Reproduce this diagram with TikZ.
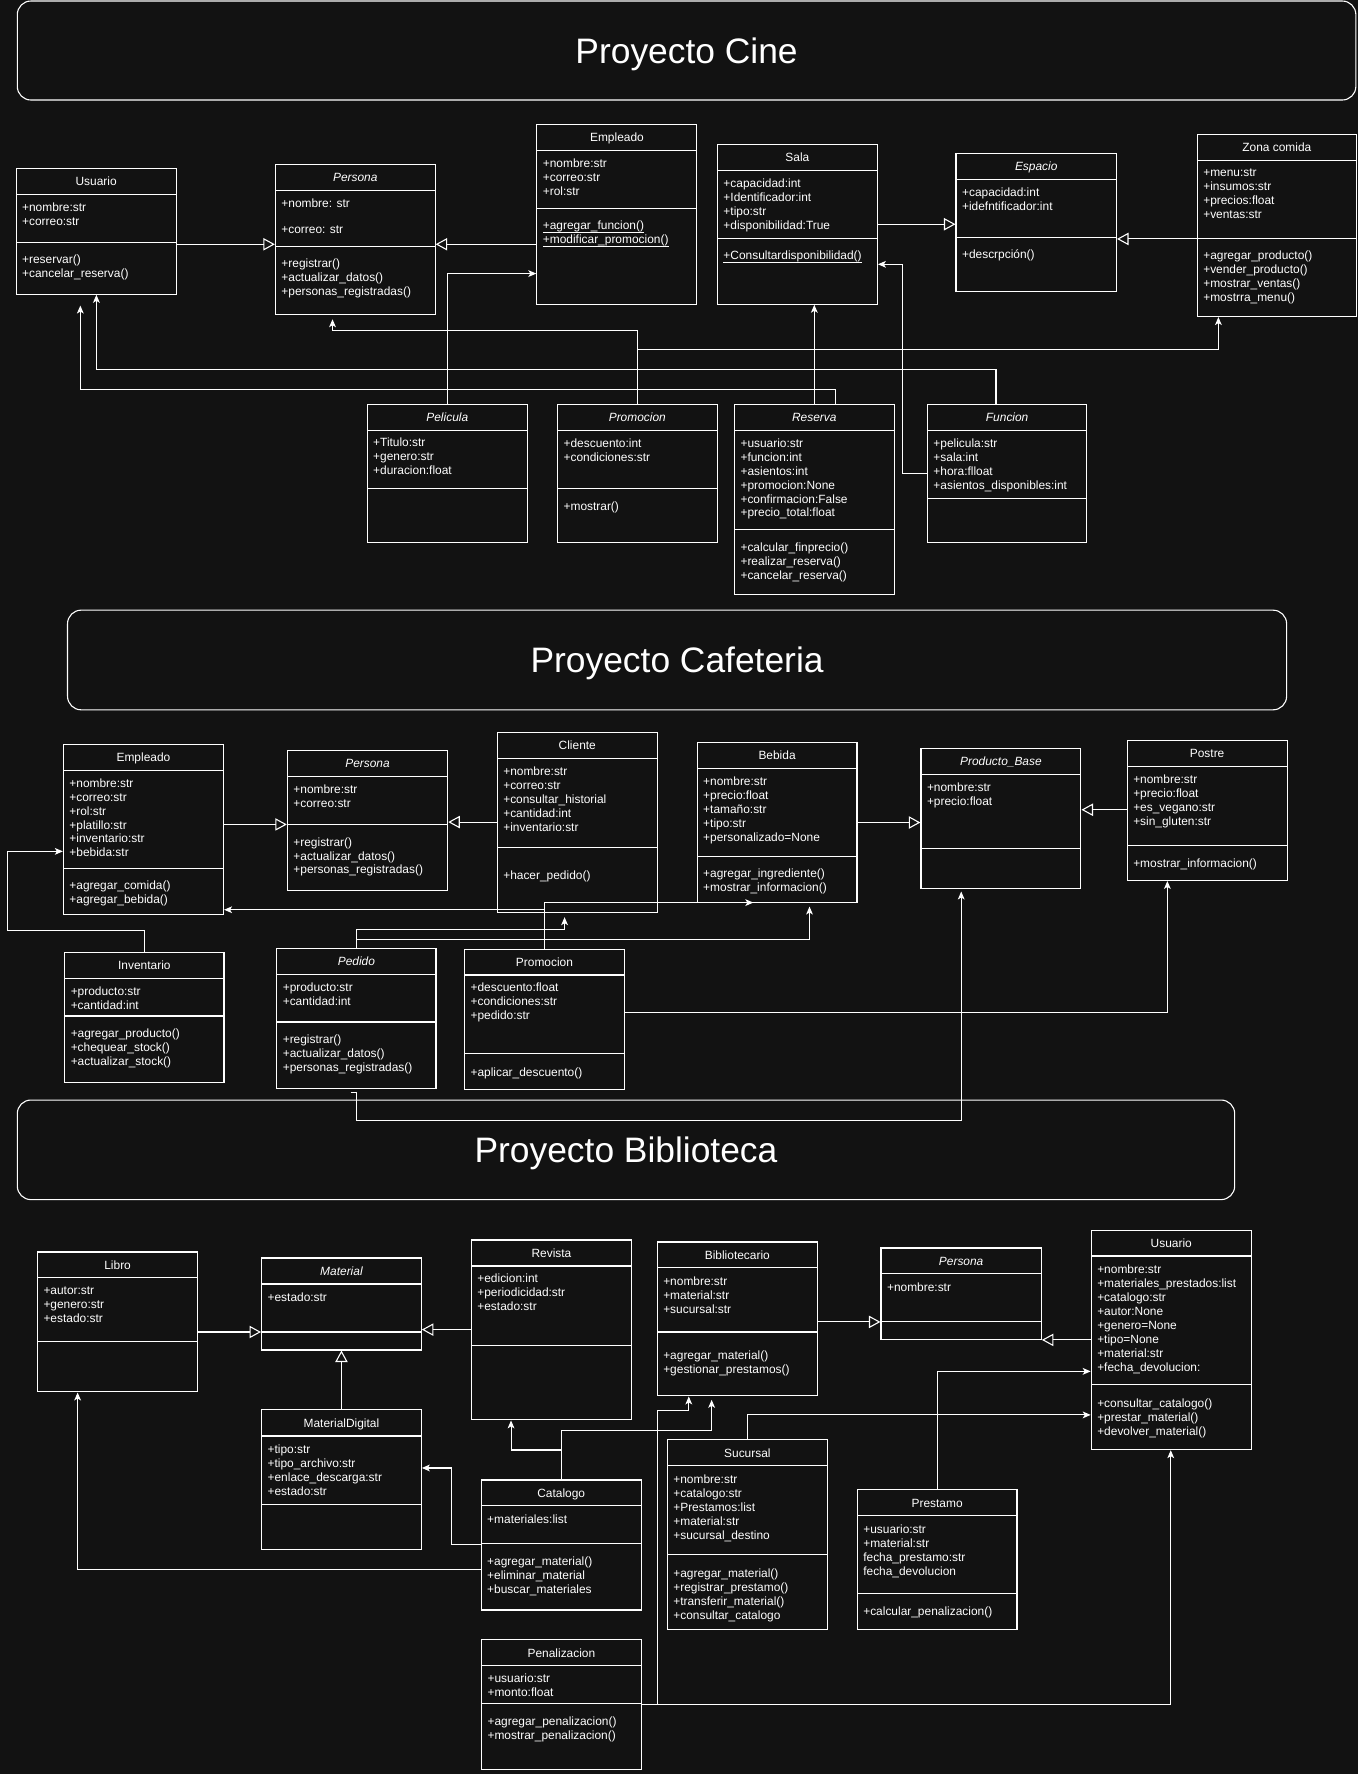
\documentclass[tikz,border=0pt]{standalone}
\usepackage{fontspec}
\setmainfont{Liberation Sans}
\usetikzlibrary{arrows.meta,fit}
\definecolor{fondo}{HTML}{121212}
\newcommand{\subraya}[1]{\underline{\vphantom{A}\smash{#1}}}
\tikzstyle{clase}=[draw=white, fill=fondo, inner sep=0pt, line width=0.55pt]
\tikzstyle{proyecto}=[draw=white, fill=fondo, inner sep=0pt, line width=0.55pt, rounded corners=0.24cm]
\tikzstyle{titulo}=[text=white, font=\fontsize{17.8}{20}\selectfont, text height=12.74pt, text depth=0pt, inner sep=0pt]
\tikzstyle{nombre}=[text=white, font=\fontsize{6}{7.03}\selectfont, text height=4.3pt, text depth=0pt, inner sep=0pt]
\tikzstyle{nombrecursiva}=[nombre, font=\fontsize{6}{7.03}\selectfont\itshape]
\tikzstyle{miembros}=[text=white, font=\fontsize{6}{7.03}\selectfont, anchor=north west, align=left, inner sep=0pt]
\tikzstyle{linea}=[white, line width=0.55pt]
\tikzstyle{hereda}=[linea, -{Triangle[open, length=5.8pt, width=6.2pt]}]
\tikzstyle{asocia}=[linea, -{Stealth[length=4pt, width=3.4pt, inset=1pt]}]

\begin{document}
\begin{tikzpicture}[x=0.02cm, y=-0.02cm]
		   \fill[fondo] (0,0) rectangle (1200,1568);
		   \useasboundingbox (0,0) rectangle (1200,1568);
		   \begin{scope}
			   % proyectos
			   \node[proyecto, fit={(15.3,0.9) (1198.4,88.4)}] (cine) {};
			   \node[titulo] (cine-t) at (cine.center) {Proyecto Cine};
			   \node[proyecto, fit={(59.7,539.3) (1137.2,627.4)}] (cafe) {};
			   \node[titulo] (cafe-t) at (cafe.center) {Proyecto Cafeteria};
			   \node[proyecto, fit={(15.3,972.3) (1091.3,1060.3)}] (biblio) {};
			   \node[titulo] (biblio-t) at (biblio.center) {Proyecto Biblioteca};

			   % cine
			   \node[clase, fit={(14.2,148.7) (155.8,260.1)}] (usuario) {};
			   \draw[linea] (14.2,171.7) -- (155.8,171.7) (14.2,214.1) -- (155.8,214.1);
			   \node[nombre] (usuario-n) at (85,160.2) {Usuario};
			   \node[miembros] (usuario-a) at (19.2,179) {+nombre:str\\+correo:str};
			   \node[miembros] (usuario-m) at (19.2,225.2) {+reservar()\\+cancelar\_reserva()};

			   \node[clase, fit={(243.4,145.2) (384.6,277.7)}] (persona) {};
			   \draw[linea] (243.4,168.2) -- (384.6,168.2) (243.4,217.7) -- (384.6,217.7);
			   \node[nombrecursiva] (persona-n) at (314,156.7) {Persona};
			   \node[miembros] (persona-a) at (248.4,175.5) {+nombre: str\\[6pt]+correo: str};
			   \node[miembros] (persona-m) at (248.4,228.8) {+registrar()\\+actualizar\_datos()\\+personas\_registradas()};

			   \node[clase, fit={(474.5,109.9) (616,268.9)}] (empleado) {};
			   \draw[linea] (474.5,132.8) -- (616,132.8) (474.5,184.1) -- (616,184.1);
			   \node[nombre] (empleado-n) at (545.3,121.4) {Empleado};
			   \node[miembros] (empleado-a) at (479.5,140.1) {+nombre:str\\+correo:str\\+rol:str};
			   \node[miembros] (empleado-m) at (479.5,195.2) {\subraya{+agregar\_funcion()}\\\subraya{+modificar\_promocion()}};

			   \node[clase, fit={(634.1,127.5) (775.5,268.9)}] (sala) {};
			   \draw[linea] (634.1,150.5) -- (775.5,150.5) (634.1,210.6) -- (775.5,210.6);
			   \node[nombre] (sala-n) at (704.8,139) {Sala};
			   \node[miembros] (sala-a) at (639.1,157.5) {+capacidad:int\\+Identificador:int\\+tipo:str\\+disponibilidad:True};
			   \node[miembros] (sala-m) at (639.1,221.7) {\subraya{+Consultardisponibilidad()}};

			   \node[clase, fit={(845,135.5) (986.8,257.7)}] (espacio) {};
			   \draw[linea] (845,158.5) -- (986.8,158.5) (845,209.7) -- (986.8,209.7);
			   \node[nombrecursiva] (espacio-n) at (915.9,147) {Espacio};
			   \node[miembros] (espacio-a) at (850,165.8) {+capacidad:int\\+idefntificador:int};
			   \node[miembros] (espacio-m) at (850,220.8) {+descrpción()};

			   \node[clase, fit={(1058.2,118.7) (1199,279.8)}] (zona) {};
			   \draw[linea] (1058.2,141.7) -- (1199,141.7) (1058.2,210.6) -- (1199,210.6);
			   \node[nombre] (zona-n) at (1128.6,130.2) {Zona comida};
			   \node[miembros] (zona-a) at (1063.2,148.7) {+menu:str\\+insumos:str\\+precios:float\\+ventas:str};
			   \node[miembros] (zona-m) at (1063.2,221.7) {+agregar\_producto()\\+vender\_producto()\\+mostrar\_ventas()\\+mostrra\_menu()};

			   \node[clase, fit={(324.5,357.3) (466.2,479.5)}] (pelicula) {};
			   \draw[linea] (324.5,380.3) -- (466.2,380.3) (324.5,431.5) -- (466.2,431.5);
			   \node[nombrecursiva] (pelicula-n) at (395.35,368.8) {Pelicula};
			   \node[miembros] (pelicula-a) at (329.5,386.7) {+Titulo:str\\+genero:str\\+duracion:float};

			   \node[clase, fit={(492.8,357.3) (633.8,479.5)}] (promocion) {};
			   \draw[linea] (492.8,380.3) -- (633.8,380.3) (492.8,431.5) -- (633.8,431.5);
			   \node[nombrecursiva] (promocion-n) at (563.3,368.8) {Promocion};
			   \node[miembros] (promocion-a) at (497.8,387.2) {+descuento:int\\+condiciones:str};
			   \node[miembros] (promocion-m) at (497.8,443.2) {+mostrar()};

			   \node[clase, fit={(649.2,357.3) (790.3,525.2)}] (reserva) {};
			   \draw[linea] (649.2,380.3) -- (790.3,380.3) (649.2,467.7) -- (790.3,467.7);
			   \node[nombrecursiva] (reserva-n) at (719.75,368.8) {Reserva};
			   \node[miembros] (reserva-a) at (654.2,387.2) {+usuario:str\\+funcion:int\\+asientos:int\\+promocion:None\\+confirmacion:False\\+precio\_total:float};
			   \node[miembros] (reserva-m) at (654.2,479.4) {+calcular\_finprecio()\\+realizar\_reserva()\\+cancelar\_reserva()};

			   \node[clase, fit={(819.7,357.3) (960.7,479.5)}] (funcion) {};
			   \draw[linea] (819.7,380.3) -- (960.7,380.3) (819.7,440.4) -- (960.7,440.4);
			   \node[nombrecursiva] (funcion-n) at (890.2,368.8) {Funcion};
			   \node[miembros] (funcion-a) at (824.7,387.2) {+pelicula:str\\+sala:int\\+hora:flloat\\+asientos\_disponibles:int};

			   % cafeteria
			   \node[clase, fit={(56,657.7) (197.6,808)}] (cempleado) {};
			   \draw[linea] (56,680.7) -- (197.6,680.7) (56,767.3) -- (197.6,767.3);
			   \node[nombre] (cempleado-n) at (126.8,669.2) {Empleado};
			   \node[miembros] (cempleado-a) at (61,687.7) {+nombre:str\\+correo:str\\+rol:str\\+platillo:str\\+inventario:str\\+bebida:str};
			   \node[miembros] (cempleado-m) at (61,778.1) {+agregar\_comida()\\+agregar\_bebida()};

			   \node[clase, fit={(254,663) (395.7,786.7)}] (cpersona) {};
			   \draw[linea] (254,686) -- (395.7,686) (254,728.7) -- (395.7,728.7);
			   \node[nombrecursiva] (cpersona-n) at (324.85,674.5) {Persona};
			   \node[miembros] (cpersona-a) at (259,693.5) {+nombre:str\\+correo:str};
			   \node[miembros] (cpersona-m) at (259,739.8) {+registrar()\\+actualizar\_datos()\\+personas\_registradas()};

			   \node[clase, fit={(439.5,647.1) (581,806.2)}] (cliente) {};
			   \draw[linea] (439.5,670.1) -- (581,670.1) (439.5,748.7) -- (581,748.7);
			   \node[nombre] (cliente-n) at (510.25,658.6) {Cliente};
			   \node[miembros] (cliente-a) at (444.5,677.4) {+nombre:str\\+correo:str\\+consultar\_historial\\+cantidad:int\\+inventario:str};
			   \node[miembros] (cliente-m) at (444.5,769.3) {+hacer\_pedido()};

			   \node[clase, fit={(616.2,655.9) (757.5,797.3)}] (bebida) {};
			   \draw[linea] (616.2,678.9) -- (757.5,678.9) (616.2,757) -- (757.5,757);
			   \node[nombre] (bebida-n) at (686.85,667.4) {Bebida};
			   \node[miembros] (bebida-a) at (621.2,686.2) {+nombre:str\\+precio:float\\+tamaño:str\\+tipo:str\\+personalizado=None};
			   \node[miembros] (bebida-m) at (621.2,767.8) {+agregar\_ingrediente()\\+mostrar\_informacion()};

			   \node[clase, fit={(814,661.2) (955.4,785)}] (producto) {};
			   \draw[linea] (814,684.2) -- (955.4,684.2) (814,749.6) -- (955.4,749.6);
			   \node[nombrecursiva] (producto-n) at (884.7,672.7) {Producto\_Base};
			   \node[miembros] (producto-a) at (819,691.8) {+nombre:str\\+precio:float};

			   \node[clase, fit={(996.3,654.2) (1137.6,778.2)}] (postre) {};
			   \draw[linea] (996.3,677.1) -- (1137.6,677.1) (996.3,747.3) -- (1137.6,747.3);
			   \node[nombre] (postre-n) at (1066.95,665.65) {Postre};
			   \node[miembros] (postre-a) at (1001.3,684.7) {+nombre:str\\+precio:float\\+es\_vegano:str\\+sin\_gluten:str};
			   \node[miembros] (postre-m) at (1001.3,759) {+mostrar\_informacion()};

			   \node[clase, fit={(57.2,841.5) (198,956.4)}] (inventario) {};
			   \draw[linea] (57.2,864.5) -- (198,864.5) (57.2,898) -- (198,898);
			   \node[nombre] (inventario-n) at (127.6,853) {Inventario};
			   \node[miembros] (inventario-a) at (62.2,871.8) {+producto:str\\+cantidad:int};
			   \node[miembros] (inventario-m) at (62.2,909.2) {+agregar\_producto()\\+chequear\_stock()\\+actualizar\_stock()};

			   \node[clase, fit={(244.6,838) (385.4,961.7)}] (pedido) {};
			   \draw[linea] (244.6,861) -- (385.4,861) (244.6,903.3) -- (385.4,903.3);
			   \node[nombrecursiva] (pedido-n) at (315,849.5) {Pedido};
			   \node[miembros] (pedido-a) at (249.6,868.2) {+producto:str\\+cantidad:int};
			   \node[miembros] (pedido-m) at (249.6,914.5) {+registrar()\\+actualizar\_datos()\\+personas\_registradas()};

			   \node[clase, fit={(410.6,838.9) (551.9,962.6)}] (cpromocion) {};
			   \draw[linea] (410.6,861.8) -- (551.9,861.8) (410.6,931.3) -- (551.9,931.3);
			   \node[nombre] (cpromocion-n) at (481.25,850.35) {Promocion};
			   \node[miembros] (cpromocion-a) at (415.6,868.8) {+descuento:float\\+condiciones:str\\+pedido:str};
			   \node[miembros] (cpromocion-m) at (415.6,943.3) {+aplicar\_descuento()};

			   % biblioteca
			   \node[clase, fit={(33.1,1106.6) (174.8,1230.3)}] (libro) {};
			   \draw[linea] (33.1,1129.5) -- (174.8,1129.5) (33.1,1186.1) -- (174.8,1186.1);
			   \node[nombre] (libro-n) at (103.95,1118.05) {Libro};
			   \node[miembros] (libro-a) at (38.1,1136.9) {+autor:str\\+genero:str\\+estado:str};

			   \node[clase, fit={(231.2,1111.9) (372.4,1193.2)}] (material) {};
			   \draw[linea] (231.2,1134.9) -- (372.4,1134.9) (231.2,1177.3) -- (372.4,1177.3);
			   \node[nombrecursiva] (material-n) at (301.8,1123.4) {Material};
			   \node[miembros] (material-a) at (236.2,1142.2) {+estado:str};

			   \node[clase, fit={(416.6,1096) (558.2,1255)}] (revista) {};
			   \draw[linea] (416.6,1119) -- (558.2,1119) (416.6,1189.1) -- (558.2,1189.1);
			   \node[nombre] (revista-n) at (487.4,1107.5) {Revista};
			   \node[miembros] (revista-a) at (421.6,1126) {+edicion:int\\+periodicidad:str\\+estado:str};

			   \node[clase, fit={(580.9,1097.8) (722.5,1233.8)}] (bibliotecario) {};
			   \draw[linea] (580.9,1120.7) -- (722.5,1120.7) (580.9,1177.3) -- (722.5,1177.3);
			   \node[nombre] (bibliotecario-n) at (651.7,1109.25) {Bibliotecario};
			   \node[miembros] (bibliotecario-a) at (585.9,1128.3) {+nombre:str\\+material:str\\+sucursal:str};
			   \node[miembros] (bibliotecario-m) at (585.9,1193.7) {+agregar\_material()\\+gestionar\_prestamos()};

			   \node[clase, fit={(778.7,1103.1) (920.4,1184.3)}] (bpersona) {};
			   \draw[linea] (778.7,1126) -- (920.4,1126) (778.7,1168.4) -- (920.4,1168.4);
			   \node[nombrecursiva] (bpersona-n) at (849.55,1114.55) {Persona};
			   \node[miembros] (bpersona-a) at (783.7,1133.6) {+nombre:str};

			   \node[clase, fit={(964.5,1087.2) (1106,1281.3)}] (busuario) {};
			   \draw[linea] (964.5,1110.1) -- (1106,1110.1) (964.5,1224.1) -- (1106,1224.1);
			   \node[nombre] (busuario-n) at (1035.25,1098.65) {Usuario};
			   \node[miembros] (busuario-a) at (969.5,1117.7) {+nombre:str\\+materiales\_prestados:list\\+catalogo:str\\+autor:None\\+genero=None\\+tipo=None\\+material:str\\+fecha\_devolucion:};
			   \node[miembros] (busuario-m) at (969.5,1236.1) {+consultar\_catalogo()\\+prestar\_material()\\+devolver\_material()};

			   \node[clase, fit={(231.2,1246.2) (372.4,1369.9)}] (matdigital) {};
			   \draw[linea] (231.2,1269.2) -- (372.4,1269.2) (231.2,1330.1) -- (372.4,1330.1);
			   \node[nombre] (matdigital-n) at (301.8,1257.7) {MaterialDigital};
			   \node[miembros] (matdigital-a) at (236.2,1276.5) {+tipo:str\\+tipo\_archivo:str\\+enlace\_descarga:str\\+estado:str};

			   \node[clase, fit={(425.3,1308.1) (566.8,1423)}] (catalogo) {};
			   \draw[linea] (425.3,1331) -- (566.8,1331) (425.3,1364.6) -- (566.8,1364.6);
			   \node[nombre] (catalogo-n) at (496.05,1319.55) {Catalogo};
			   \node[miembros] (catalogo-a) at (430.3,1338.3) {+materiales:list};
			   \node[miembros] (catalogo-m) at (430.3,1375.7) {+agregar\_material()\\+eliminar\_material\\+buscar\_materiales};

			   \node[clase, fit={(589.8,1272.7) (731.4,1440.3)}] (sucursal) {};
			   \draw[linea] (589.8,1295.7) -- (731.4,1295.7) (589.8,1374.3) -- (731.4,1374.3);
			   \node[nombre] (sucursal-n) at (660.6,1284.2) {Sucursal};
			   \node[miembros] (sucursal-a) at (594.8,1303) {+nombre:str\\+catalogo:str\\+Prestamos:list\\+material:str\\+sucursal\_destino};
			   \node[miembros] (sucursal-m) at (594.8,1386.3) {+agregar\_material()\\+registrar\_prestamo()\\+transferir\_material()\\+consultar\_catalogo};

			   \node[clase, fit={(757.7,1316.9) (898.9,1440.3)}] (prestamo) {};
			   \draw[linea] (757.7,1339.9) -- (898.9,1339.9) (757.7,1408.8) -- (898.9,1408.8);
			   \node[nombre] (prestamo-n) at (828.3,1328.4) {Prestamo};
			   \node[miembros] (prestamo-a) at (762.7,1347.5) {+usuario:str\\+material:str\\fecha\_prestamo:str\\fecha\_devolucion};
			   \node[miembros] (prestamo-m) at (762.7,1419.6) {+calcular\_penalizacion()};

			   \node[clase, fit={(425.6,1449.4) (566.9,1564.3)}] (penalizacion) {};
			   \draw[linea] (425.6,1472.4) -- (566.9,1472.4) (425.6,1506) -- (566.9,1506);
			   \node[nombre] (penalizacion-n) at (496.25,1460.9) {Penalizacion};
			   \node[miembros] (penalizacion-a) at (430.6,1479.4) {+usuario:str\\+monto:float};
			   \node[miembros] (penalizacion-m) at (430.6,1517.4) {+agregar\_penalizacion()\\+mostrar\_penalizacion()};

			   \coordinate (pedidocola) at (310,965.5);
		   \end{scope}
		   \begin{scope}
			   % cine
			   \draw[hereda] (usuario.east |- 0,215.9) -- (persona.west |- 0,215.9);
			   \draw[hereda] (empleado.west |- 0,215.9) -- (persona.east |- 0,215.9);
			   \draw[hereda] (sala.east |- 0,198.2) -- (espacio.west |- 0,198.2);
			   \draw[hereda] (zona.west |- 0,211.2) -- (espacio.east |- 0,211.2);
			   \draw[asocia] (pelicula.north) |- (empleado.west |- 0,241.8);
			   \draw[asocia, shorten >=0.08cm] (promocion.north) |- (293.9,291.9) -- (persona.south -| 293.9,0);
			   \draw[asocia] (promocion.north |- 0,309.3) -| (zona.south -| 1076.9,0);
			   \draw[asocia] (funcion.north -| 880.3,0) |- (85.2,326.9) -- (usuario.south -| 85.2,0);
			   \draw[asocia, shorten >=0.19cm] (reserva.north -| 738.5,0) |- (71,344.6) -- (usuario.south -| 71,0);
			   \draw[asocia] (reserva.north) -- (reserva.north |- sala.south);
			   \draw[asocia] (funcion.west |- 0,418.3) -| (797.6,233.6) -- (sala.east |- 0,233.6);

			   % cafeteria
			   \draw[hereda] (cempleado.east |- 0,728.7) -- (cpersona.west |- 0,728.7);
			   \draw[hereda] (cliente.west |- 0,726.6) -- (cpersona.east |- 0,726.6);
			   \draw[hereda] (bebida.east |- 0,727) -- (producto.west |- 0,727);
			   \draw[hereda] (postre.west |- 0,715.7) -- (producto.east |- 0,715.7);
			   \draw[asocia] (inventario.north) |- (6.7,822.1) |- (cempleado.west |- 0,752.5);
			   \draw[asocia] (cpromocion.north) |- (cempleado.east |- 0,804.1);
			   \draw[asocia] (cpromocion.north) |- (bebida.south -| 665.8,0);
			   \draw[asocia, shorten >=0.08cm] (pedido.north) |- (499,821.8) -- (cliente.south -| 499,0);
			   \draw[asocia, shorten >=0.07cm] (pedido.north) |- (715.5,830.6) -- (bebida.south -| 715.5,0);
			   \draw[asocia] (cpromocion.east |- 0,894.8) -| (postre.south -| 1031.8,0);
			   \draw[asocia, shorten >=0.05cm] (pedidocola) -| (314.8,990) -| (producto.south -| 849.6,0);

			   % biblioteca
			   \draw[hereda] (libro.east |- 0,1177.3) -- (material.west |- 0,1177.3);
			   \draw[hereda] (revista.west |- 0,1175.2) -- (material.east |- 0,1175.2);
			   \draw[hereda] (matdigital.north) -- (material.south);
			   \draw[hereda] (bibliotecario.east |- 0,1168.4) -- (bpersona.west |- 0,1168.4);
			   \draw[hereda] (busuario.west |- 0,1184.3) -- (bpersona.east |- 0,1184.3);
			   \draw[asocia] (catalogo.west |- 0,1365.2) -| (398.8,1297.5) -- (matdigital.east |- 0,1297.5);
			   \draw[asocia] (catalogo.north) |- (451.7,1281.6) -- (revista.south -| 451.7,0);
			   \draw[asocia, shorten >=0.06cm] (catalogo.north) |- (629,1264.2) -- (bibliotecario.south -| 629,0);
			   \draw[asocia] (catalogo.west |- 0,1387.3) -| (libro.south -| 68.6,0);
			   \draw[asocia] (penalizacion.east |- 0,1506.6) -| (busuario.south -| 1034.8,0);
			   \draw[asocia] (penalizacion.east |- 0,1506.6) -| (581.1,1246.5) -| (bibliotecario.south -| 608.8,0);
			   \draw[asocia] (sucursal.north) |- (busuario.west |- 0,1250.6);
			   \draw[asocia] (prestamo.north) |- (busuario.west |- 0,1212.1);
		   \end{scope}
	   \end{tikzpicture}
\end{document}
